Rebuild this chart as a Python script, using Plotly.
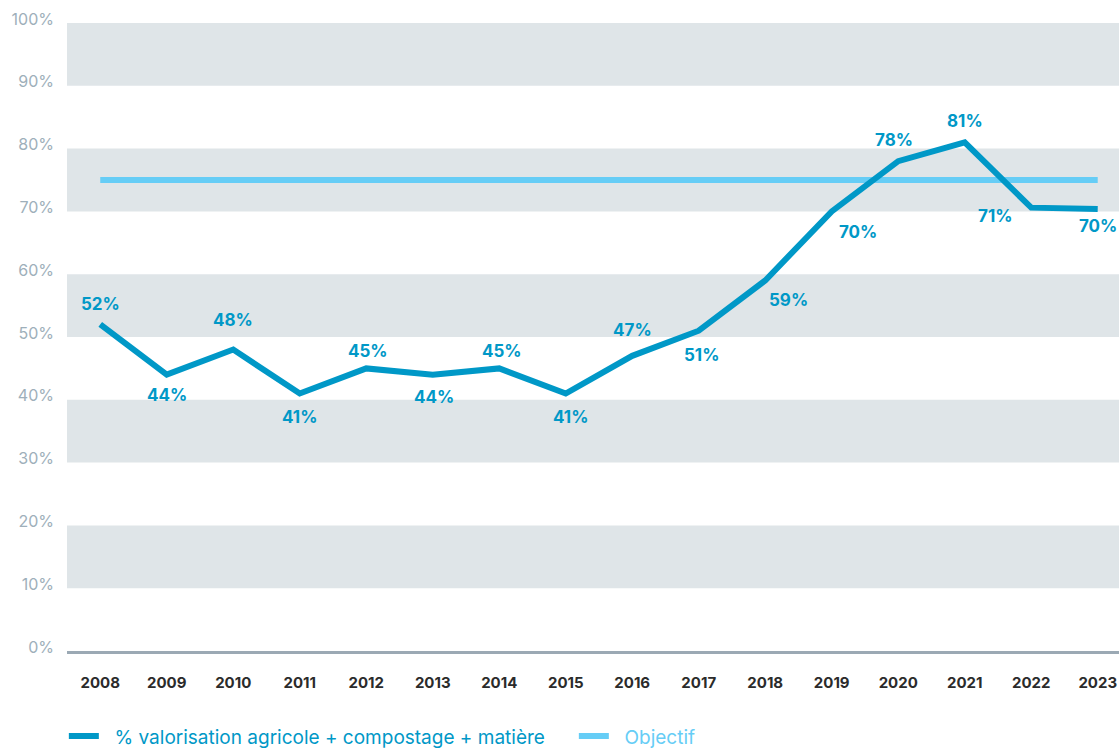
import plotly.graph_objects as go

# Data
years = [str(y) for y in range(2008, 2024)]
valorisation = [52, 44, 48, 41, 45, 44, 45, 41, 47, 51, 59, 70, 78, 81, 70.6, 70.4]
objectif = [75] * 16
y_ticks = list(range(0, 101, 10))
y_tick_labels = [f"{v}%" for v in y_ticks]

MAIN = "#0098c7"
OBJ = "#66cdf6"
FONT = "Inter, Open Sans, sans-serif"

# Label offsets (px) for each data label
label_dx = [0, 0, 0, 0, 2, 1, 3, 5, 0, 3, 23, 26, -4, 0, -36, 0]
label_dy = [-20, 20, -30, 23, -17, 22, -17, 23, -26, 24, 20, 21, -21, -21, 8, 17]

fig = go.Figure()

fig.add_trace(go.Scatter(
    x=years, y=objectif, mode="lines",
    name=f"<span style='color:{OBJ}'>&nbsp;&nbsp;Objectif</span>",
    line=dict(color=OBJ, width=6), legendrank=2, hoverinfo="skip",
))
fig.add_trace(go.Scatter(
    x=years, y=valorisation, mode="lines",
    name=f"<span style='color:{MAIN}'>&nbsp;&nbsp;% valorisation agricole + compostage + matière</span>",
    line=dict(color=MAIN, width=6), legendrank=1, hoverinfo="skip",
))

# Data labels (category index used for x so numeric-looking years stay categories)
for i, v in enumerate(valorisation):
    fig.add_annotation(
        x=i, y=v, xref="x", yref="y", text=f"<b>{round(v)}%</b>", showarrow=False,
        xshift=label_dx[i], yshift=-label_dy[i],
        font=dict(family=FONT, size=17, color=MAIN),
    )

# Alternating horizontal bands
shapes = []
for lo in range(10, 100, 20):
    shapes.append(dict(type="rect", xref="paper", yref="y", x0=0, x1=1, y0=lo, y1=lo + 10,
                       fillcolor="#dfe5e8", line=dict(width=0), layer="below"))

fig.update_layout(
    width=1119, height=751,
    margin=dict(l=67, r=0, t=23, b=100, autoexpand=False),
    plot_bgcolor="white", paper_bgcolor="white",
    shapes=shapes,
    showlegend=True,
    legend=dict(orientation="h", x=-0.003, xanchor="left", y=-0.166, yanchor="bottom",
                font=dict(family=FONT, size=19), traceorder="normal", itemwidth=30,
                entrywidth=465, entrywidthmode="pixels"),
    xaxis=dict(
        type="category", range=[-0.5, 15.32], showgrid=False,
        showline=True, linecolor="#9ba9b4", linewidth=3,
        tickfont=dict(family=FONT, size=15, color="#2b2b2b", weight="bold"),
        ticks="", ticklabelstandoff=16,
    ),
    yaxis=dict(
        range=[0, 100], tickvals=y_ticks, ticktext=y_tick_labels, showgrid=False,
        zeroline=False, showline=False,
        tickfont=dict(family=FONT, size=16, color="#9eafba"),
        ticklabelstandoff=12, ticklabelshift=-4,
    ),
)

fig.write_html("out.html")
